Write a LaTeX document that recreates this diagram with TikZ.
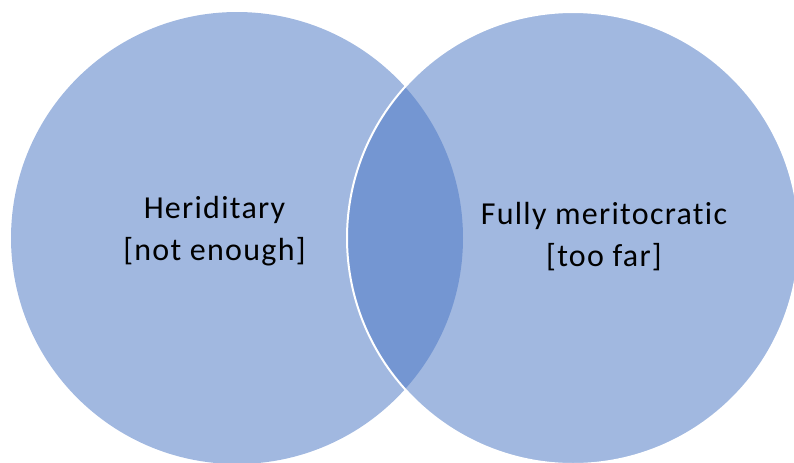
\documentclass[tikz,border=0pt]{standalone}
\usepackage{fontspec}
\setmainfont{Carlito}
\newfontfamily\vennfont{Carlito}[LetterSpace=4,Ligatures=NoCommon]
\usetikzlibrary{positioning}
\definecolor{vennlight}{RGB}{161,184,224}
\definecolor{venndark}{RGB}{116,150,210}

\begin{document}
\begin{tikzpicture}[x=0.75pt,y=-0.75pt,
  set/.style={circle,fill=vennlight,minimum size=339pt,inner sep=0pt},
  rim/.style={draw=white,line width=1.5pt},
  lbl/.style={align=center,font=\vennfont\fontsize{24}{31.5}\selectfont,text=black}]
\useasboundingbox (0,0) rectangle (794,462);
% the two sets
\node[set] (hered) at (237,238) {};
\node[set] (merit) at (573,238) {};
% overlap
\begin{scope}
\clip (hered.center) circle (169.5pt);
\fill[venndark] (merit.center) circle (169.5pt);
\end{scope}
\draw[rim] (merit.center) circle (169.5pt);
% labels
\node[lbl] (heredtxt) at (214.5,231.6) {Heriditary\\{[not enough]}};
\node[lbl] (merittxt) at (604,236.6) {Fully meritocratic\\{[too far]}};
\end{tikzpicture}
\end{document}
